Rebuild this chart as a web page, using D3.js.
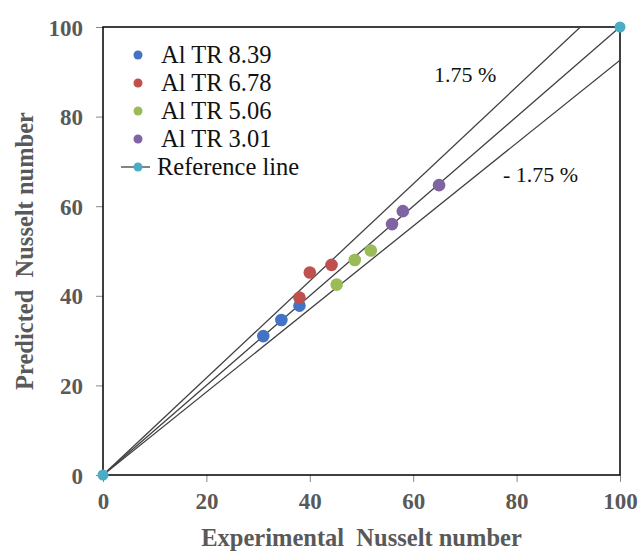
<!DOCTYPE html>
<html><head><meta charset="utf-8">
<script src="https://cdn.jsdelivr.net/npm/d3@7"></script>
<style>body{margin:0;background:#fff}svg{display:block}</style>
</head><body>
<svg id="c" width="640" height="553"></svg>
<script>
const seriesNames = ["Al TR 8.39","Al TR 6.78","Al TR 5.06","Al TR 3.01"];
const seriesColors = ["#4472C4","#C0504D","#9BBB59","#8064A2"];
const expValues = [
  [31, 34.5, 38],
  [38, 40, 44.2],
  [45.2, 48.7, 51.8],
  [55.9, 58, 65]
];
const predValues = [
  [31, 34.6, 37.8],
  [39.6, 45.2, 46.9],
  [42.5, 48, 50.1],
  [56, 58.9, 64.7]
];
const refX = [0, 100];
const refY = [0, 100];
const upperSlope = 1.083;
const lowerSlope = 0.926;
const ticks = [0, 20, 40, 60, 80, 100];

const svg = d3.select("#c");
const L = 103, R = 620, T = 27, B = 475;
const x = d3.scaleLinear().domain([0,100]).range([L,R]);
const y = d3.scaleLinear().domain([0,100]).range([B,T]);

// axes
const gx = svg.append("g").attr("transform",`translate(0,${B})`)
  .call(d3.axisBottom(x).tickValues(ticks).tickSize(7).tickPadding(11));
const gy = svg.append("g").attr("transform",`translate(${L},0)`)
  .call(d3.axisLeft(y).tickValues(ticks).tickSize(7).tickPadding(13));
[gx,gy].forEach(g=>{
  g.select(".domain").remove();
  g.selectAll(".tick line").attr("stroke","#888").attr("stroke-width",1);
  g.selectAll(".tick text").attr("font-family","Liberation Serif").attr("font-weight","bold")
    .attr("font-size",23).attr("fill","#595959");
});
gy.selectAll(".tick text").attr("dy","0.35em");

// frame
svg.append("rect").attr("x",L).attr("y",T).attr("width",R-L).attr("height",B-T)
  .attr("fill","none").attr("stroke","#000").attr("stroke-width",1.5);

// deviation lines
const clip = svg.append("clipPath").attr("id","pc").append("rect")
  .attr("x",L).attr("y",T).attr("width",R-L).attr("height",B-T);
const lg = svg.append("g").attr("clip-path","url(#pc)");
[upperSlope, lowerSlope].forEach(s=>{
  const xe = Math.min(100, 100/s);
  lg.append("line").attr("x1",x(0)).attr("y1",y(0)).attr("x2",x(xe)).attr("y2",y(xe*s))
    .attr("stroke","#404040").attr("stroke-width",1.3);
});
// reference line
svg.append("line").attr("x1",x(refX[0])).attr("y1",y(refY[0])).attr("x2",x(refX[1])).attr("y2",y(refY[1]))
  .attr("stroke","#404040").attr("stroke-width",1.3);
svg.selectAll(".ref").data(refX).enter().append("circle")
  .attr("cx",(d,i)=>x(refX[i])).attr("cy",(d,i)=>y(refY[i])).attr("r",5.5).attr("fill","#4BACC6");

// points
seriesNames.forEach((n,i)=>{
  svg.selectAll(".p"+i).data(expValues[i]).enter().append("circle")
    .attr("cx",d=>x(d)).attr("cy",(d,j)=>y(predValues[i][j])).attr("r",6.3).attr("fill",seriesColors[i]);
});

// annotations
svg.append("text").attr("x",434).attr("y",82).text("1.75 %")
  .attr("font-family","Liberation Serif").attr("font-size",22).attr("fill","#111");
svg.append("text").attr("x",503).attr("y",182).text("- 1.75 %")
  .attr("font-family","Liberation Serif").attr("font-size",22).attr("fill","#111");

// legend
const leg = svg.append("g");
seriesNames.forEach((n,i)=>{
  const cy = 55 + i*28;
  leg.append("circle").attr("cx",138).attr("cy",cy).attr("r",4.5).attr("fill",seriesColors[i]);
  leg.append("text").attr("x",161).attr("y",cy+8).text(n)
    .attr("font-family","Liberation Serif").attr("font-size",24.5).attr("fill","#111");
});
const ry = 55 + 4*28;
leg.append("line").attr("x1",121).attr("x2",150).attr("y1",ry).attr("y2",ry).attr("stroke","#404040").attr("stroke-width",1.3);
leg.append("circle").attr("cx",138).attr("cy",ry).attr("r",4.5).attr("fill","#4BACC6");
leg.append("text").attr("x",157).attr("y",ry+8).text("Reference line")
  .attr("font-family","Liberation Serif").attr("font-size",24.5).attr("fill","#111");

// axis titles
svg.append("text").attr("x",(L+R)/2).attr("y",546).attr("text-anchor","middle")
  .text("Experimental\u00a0\u00a0Nusselt number")
  .attr("font-family","Liberation Serif").attr("font-weight","bold").attr("font-size",24.5).attr("fill","#595959");
svg.append("text").attr("transform",`translate(33,${(T+B)/2}) rotate(-90)`).attr("text-anchor","middle")
  .text("Predicted\u00a0\u00a0Nusselt number")
  .attr("font-family","Liberation Serif").attr("font-weight","bold").attr("font-size",24.5).attr("fill","#595959");
</script>
</body></html>
